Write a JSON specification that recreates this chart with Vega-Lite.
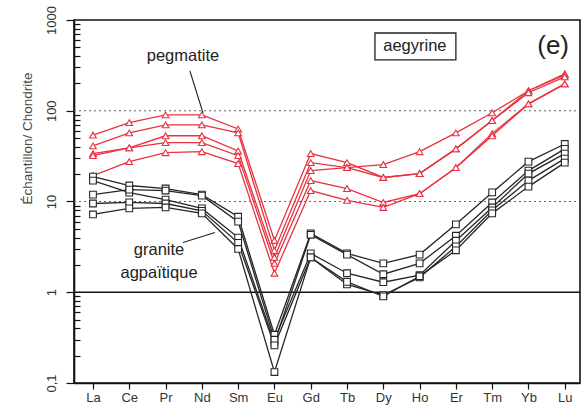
{
  "$schema": "https://vega.github.io/schema/vega-lite/v6.json",
  "width": 506,
  "height": 363,
  "autosize": {"type": "none"},
  "padding": {"left": 74, "top": 20, "right": 4, "bottom": 29},
  "background": "white",
  "config": {"view": {"stroke": "#111", "strokeWidth": 1.6}, "font": "Liberation Sans"},
  "datasets": {
    "ree": [
      {"g":"p","s":"A","x":1,"y":54},{"g":"p","s":"A","x":2,"y":74},{"g":"p","s":"A","x":3,"y":90},{"g":"p","s":"A","x":4,"y":90},{"g":"p","s":"A","x":5,"y":63},{"g":"p","s":"A","x":6,"y":3.72},{"g":"p","s":"A","x":7,"y":33.7},{"g":"p","s":"A","x":8,"y":26.8},{"g":"p","s":"A","x":9,"y":18.4},{"g":"p","s":"A","x":10,"y":20.3},{"g":"p","s":"A","x":11,"y":38},{"g":"p","s":"A","x":12,"y":78},{"g":"p","s":"A","x":13,"y":166},{"g":"p","s":"A","x":14,"y":255},
      {"g":"p","s":"B","x":1,"y":41},{"g":"p","s":"B","x":2,"y":57},{"g":"p","s":"B","x":3,"y":70},{"g":"p","s":"B","x":4,"y":70},{"g":"p","s":"B","x":5,"y":57},{"g":"p","s":"B","x":6,"y":2.89},{"g":"p","s":"B","x":7,"y":26.8},{"g":"p","s":"B","x":8,"y":23.6},{"g":"p","s":"B","x":9,"y":25.5},{"g":"p","s":"B","x":10,"y":35.4},{"g":"p","s":"B","x":11,"y":57},{"g":"p","s":"B","x":12,"y":95},{"g":"p","s":"B","x":13,"y":166},{"g":"p","s":"B","x":14,"y":249},
      {"g":"p","s":"C","x":1,"y":33.7},{"g":"p","s":"C","x":2,"y":39},{"g":"p","s":"C","x":3,"y":53},{"g":"p","s":"C","x":4,"y":53},{"g":"p","s":"C","x":5,"y":36},{"g":"p","s":"C","x":6,"y":2.42},{"g":"p","s":"C","x":7,"y":21.9},{"g":"p","s":"C","x":8,"y":23.6},{"g":"p","s":"C","x":9,"y":18.4},{"g":"p","s":"C","x":10,"y":20.3},{"g":"p","s":"C","x":11,"y":38},{"g":"p","s":"C","x":12,"y":78},{"g":"p","s":"C","x":13,"y":158},{"g":"p","s":"C","x":14,"y":236},
      {"g":"p","s":"D","x":1,"y":32},{"g":"p","s":"D","x":2,"y":39},{"g":"p","s":"D","x":3,"y":44.5},{"g":"p","s":"D","x":4,"y":44.5},{"g":"p","s":"D","x":5,"y":32},{"g":"p","s":"D","x":6,"y":2.08},{"g":"p","s":"D","x":7,"y":17},{"g":"p","s":"D","x":8,"y":13.9},{"g":"p","s":"D","x":9,"y":9.75},{"g":"p","s":"D","x":10,"y":12.2},{"g":"p","s":"D","x":11,"y":23.6},{"g":"p","s":"D","x":12,"y":56},{"g":"p","s":"D","x":13,"y":119},{"g":"p","s":"D","x":14,"y":198},
      {"g":"p","s":"E","x":1,"y":19.3},{"g":"p","s":"E","x":2,"y":27.5},{"g":"p","s":"E","x":3,"y":34.5},{"g":"p","s":"E","x":4,"y":35.4},{"g":"p","s":"E","x":5,"y":26.2},{"g":"p","s":"E","x":6,"y":1.62},{"g":"p","s":"E","x":7,"y":13.2},{"g":"p","s":"E","x":8,"y":10.3},{"g":"p","s":"E","x":9,"y":8.6},{"g":"p","s":"E","x":10,"y":12.2},{"g":"p","s":"E","x":11,"y":23.6},{"g":"p","s":"E","x":12,"y":53},{"g":"p","s":"E","x":13,"y":119},{"g":"p","s":"E","x":14,"y":198},
      {"g":"k","s":"K1","x":1,"y":18.8},{"g":"k","s":"K1","x":2,"y":15},{"g":"k","s":"K1","x":3,"y":13.9},{"g":"k","s":"K1","x":4,"y":11.9},{"g":"k","s":"K1","x":5,"y":6.8},{"g":"k","s":"K1","x":6,"y":0.34},{"g":"k","s":"K1","x":7,"y":4.45},{"g":"k","s":"K1","x":8,"y":2.68},{"g":"k","s":"K1","x":9,"y":2.08},{"g":"k","s":"K1","x":10,"y":2.6},{"g":"k","s":"K1","x":11,"y":5.6},{"g":"k","s":"K1","x":12,"y":12.6},{"g":"k","s":"K1","x":13,"y":27.5},{"g":"k","s":"K1","x":14,"y":43},
      {"g":"k","s":"K2","x":1,"y":17},{"g":"k","s":"K2","x":2,"y":12.5},{"g":"k","s":"K2","x":3,"y":10.5},{"g":"k","s":"K2","x":4,"y":8.4},{"g":"k","s":"K2","x":5,"y":4},{"g":"k","s":"K2","x":6,"y":0.28},{"g":"k","s":"K2","x":7,"y":4.3},{"g":"k","s":"K2","x":8,"y":2.6},{"g":"k","s":"K2","x":9,"y":1.58},{"g":"k","s":"K2","x":10,"y":2.08},{"g":"k","s":"K2","x":11,"y":4.2},{"g":"k","s":"K2","x":12,"y":9.75},{"g":"k","s":"K2","x":13,"y":21.9},{"g":"k","s":"K2","x":14,"y":38},
      {"g":"k","s":"K3","x":1,"y":11.9},{"g":"k","s":"K3","x":2,"y":13.5},{"g":"k","s":"K3","x":3,"y":13.2},{"g":"k","s":"K3","x":4,"y":11.6},{"g":"k","s":"K3","x":5,"y":6},{"g":"k","s":"K3","x":6,"y":0.3},{"g":"k","s":"K3","x":7,"y":2.68},{"g":"k","s":"K3","x":8,"y":1.62},{"g":"k","s":"K3","x":9,"y":1.29},{"g":"k","s":"K3","x":10,"y":1.54},{"g":"k","s":"K3","x":11,"y":3.7},{"g":"k","s":"K3","x":12,"y":8.6},{"g":"k","s":"K3","x":13,"y":20.3},{"g":"k","s":"K3","x":14,"y":33.7},
      {"g":"k","s":"K4","x":1,"y":9.5},{"g":"k","s":"K4","x":2,"y":9.8},{"g":"k","s":"K4","x":3,"y":9.5},{"g":"k","s":"K4","x":4,"y":7.9},{"g":"k","s":"K4","x":5,"y":3.5},{"g":"k","s":"K4","x":6,"y":0.26},{"g":"k","s":"K4","x":7,"y":2.42},{"g":"k","s":"K4","x":8,"y":1.22},{"g":"k","s":"K4","x":9,"y":0.93},{"g":"k","s":"K4","x":10,"y":1.46},{"g":"k","s":"K4","x":11,"y":3.2},{"g":"k","s":"K4","x":12,"y":8},{"g":"k","s":"K4","x":13,"y":17},{"g":"k","s":"K4","x":14,"y":29.7},
      {"g":"k","s":"K5","x":1,"y":7.2},{"g":"k","s":"K5","x":2,"y":8.4},{"g":"k","s":"K5","x":3,"y":8.6},{"g":"k","s":"K5","x":4,"y":7.4},{"g":"k","s":"K5","x":5,"y":3},{"g":"k","s":"K5","x":6,"y":0.132},{"g":"k","s":"K5","x":7,"y":2.42},{"g":"k","s":"K5","x":8,"y":1.3},{"g":"k","s":"K5","x":9,"y":0.9},{"g":"k","s":"K5","x":10,"y":1.5},{"g":"k","s":"K5","x":11,"y":2.9},{"g":"k","s":"K5","x":12,"y":7.4},{"g":"k","s":"K5","x":13,"y":14.6},{"g":"k","s":"K5","x":14,"y":26.8}
    ]
  },
  "encoding": {
    "x": {
      "field": "x", "type": "quantitative",
      "scale": {"domain": [0.477, 14.42], "nice": false, "zero": false},
      "axis": {
        "values": [1,2,3,4,5,6,7,8,9,10,11,12,13,14],
        "labelExpr": "['La','Ce','Pr','Nd','Sm','Eu','Gd','Tb','Dy','Ho','Er','Tm','Yb','Lu'][datum.value-1]",
        "tickSize": 6, "tickColor": "#111", "tickWidth": 1.2,
        "domainColor": "#111", "domainWidth": 1.6, "grid": false,
        "labelPadding": 2, "labelFontSize": 13, "labelColor": "#333",
        "labelFlush": false, "labelOverlap": false, "title": null
      }
    },
    "y": {
      "field": "y", "type": "quantitative",
      "scale": {"type": "log", "domain": [0.1, 1000], "nice": false},
      "axis": {
        "values": [0.1,0.2,0.3,0.4,0.5,0.6,0.7,0.8,0.9,1,2,3,4,5,6,7,8,9,10,20,30,40,50,60,70,80,90,100,200,300,400,500,600,700,800,900,1000],
        "labelExpr": "datum.value==0.1?'0,1':datum.value==1?'1':datum.value==10?'10':datum.value==100?'100':datum.value==1000?'1000':''",
        "tickSize": {"condition": {"test": "datum.value==0.1||datum.value==1||datum.value==10||datum.value==100||datum.value==1000", "value": 8}, "value": -6},
        "tickColor": "#111", "tickWidth": 1.2,
        "domainColor": "#111", "domainWidth": 1.6,
        "grid": false,
        "labelAngle": -90, "labelAlign": "center", "labelBaseline": "bottom",
        "labelPadding": 8, "labelFontSize": 13, "labelColor": "#333",
        "labelOverlap": false, "labelFlush": false, "labelBound": false,
        "title": "Échantillon/ Chondrite",
        "titleFontSize": 13.5, "titleFontWeight": "normal", "titleColor": "#444",
        "titleX": -47, "titleY": 118, "titleAlign": "center", "titleBaseline": "middle", "titleAngle": -90
      }
    }
  },
  "layer": [
    {
      "data": {"values": [{"y": 10}, {"y": 100}]},
      "mark": {"type": "rule", "color": "#666", "strokeDash": [2, 3], "strokeWidth": 1},
      "encoding": {"x": {"value": 0}, "x2": {"value": 506}}
    },
    {
      "data": {"values": [{"y": 1}]},
      "mark": {"type": "rule", "color": "#111", "strokeWidth": 1.6},
      "encoding": {"x": {"value": 0}, "x2": {"value": 506}}
    },
    {
      "data": {"name": "ree"},
      "mark": {"type": "line", "strokeWidth": 1.3},
      "encoding": {
        "color": {"field": "g", "type": "nominal", "scale": {"domain": ["p", "k"], "range": ["#e8323f", "#262626"]}, "legend": null},
        "detail": {"field": "s"},
        "order": {"field": "x"}
      }
    },
    {
      "data": {"name": "ree"},
      "mark": {"type": "point", "filled": false, "fill": "white", "fillOpacity": 1, "strokeWidth": 1.1},
      "encoding": {
        "color": {"field": "g", "type": "nominal", "scale": {"domain": ["p", "k"], "range": ["#e8323f", "#262626"]}, "legend": null},
        "shape": {"field": "g", "type": "nominal", "scale": {"domain": ["p", "k"], "range": ["triangle-up", "square"]}, "legend": null},
        "size": {"value": 45}
      }
    },
    {
      "data": {"values": [{"x": 3.67, "y": 275, "x2": 4.03, "y2": 95}, {"x": 3.48, "y": 3.54, "x2": 4.36, "y2": 4.56}]},
      "mark": {"type": "rule", "color": "#222", "strokeWidth": 1.1},
      "encoding": {"x2": {"field": "x2"}, "y2": {"field": "y2"}}
    },
    {
      "data": {"values": [{"x": 8.77, "x2": 11.0, "y": 719, "y2": 363}]},
      "mark": {"type": "rect", "fill": "white", "stroke": "#222", "strokeWidth": 1.3},
      "encoding": {"x2": {"field": "x2"}, "y2": {"field": "y2"}}
    },
    {
      "data": {"values": [{"t": "pegmatite", "x": 3.48, "y": 402}, {"t": "granite", "x": 2.82, "y": 2.9}, {"t": "agpaïtique", "x": 2.82, "y": 1.62}, {"t": "aegyrine", "x": 9.87, "y": 511}]},
      "mark": {"type": "text", "fontSize": 16.5, "color": "#222", "align": "center", "baseline": "middle"},
      "encoding": {"text": {"field": "t"}}
    },
    {
      "data": {"values": [{"t": "(e)", "x": 13.68, "y": 511}]},
      "mark": {"type": "text", "fontSize": 26, "color": "#222", "align": "center", "baseline": "middle"},
      "encoding": {"text": {"field": "t"}}
    }
  ]
}
